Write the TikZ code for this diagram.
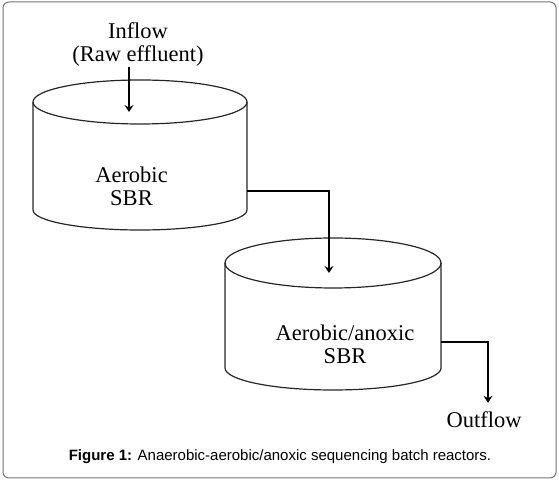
\documentclass[tikz,border=0pt]{standalone}
\usepackage{fontspec}
\setmainfont{Liberation Serif}
\newfontfamily\capfont{Liberation Sans}
\usetikzlibrary{arrows.meta, calc, positioning}

\begin{document}
\begin{tikzpicture}[x=1pt, y=1pt,
  body/.style={inner sep=0pt, outer sep=0pt, minimum width=#1},
  tank/.style={line width=1.2pt, draw=black!85},
  flow/.style={line width=1.5pt, -{Stealth[length=7pt,width=9pt,inset=2.5pt]}},
  lbl/.style={align=center, inner sep=0pt, font=\fontsize{22.5}{23}\selectfont}]
\useasboundingbox (0,0) rectangle (559,481);
\draw[black!55, line width=1pt, rounded corners=6pt] (3,3) rectangle (556,479);

% reactor bodies
\node[body=214, minimum height=108] (sbr1) at (140,325) {};
\node[body=216, minimum height=105] (sbr2) at (333,165.5) {};

\draw[tank] (sbr1.north) ellipse (107 and 22);
\draw[tank] (sbr1.north west) -- (sbr1.south west)
  arc[start angle=180, end angle=360, x radius=107, y radius=20] -- (sbr1.north east);

\draw[tank] (sbr2.north) ellipse (108 and 25);
\draw[tank] (sbr2.north west) -- (sbr2.south west)
  arc[start angle=180, end angle=360, x radius=108, y radius=22] -- (sbr2.north east);

% labels
\node[lbl] (lab1) at (131.5,295) {Aerobic\\SBR};
\node[lbl] (lab2) at (345,137) {Aerobic/anoxic\\SBR};
\node[lbl] (inflow) at (138,437) {Inflow\\(Raw effluent)};
\node[lbl] (outflow) at (484,61) {Outflow};

\node[font=\capfont\fontsize{15}{17}\selectfont, inner sep=0pt] (cap) at (280,24)
  {\textbf{Figure 1:} Anaerobic-aerobic/anoxic sequencing batch reactors.};

% flows
\draw[flow] ([xshift=-9pt,yshift=-1pt]inflow.south) -- ([xshift=-11pt,yshift=-10pt]sbr1.north);
\draw[flow] ([yshift=-35pt]sbr1.east) -| ([xshift=-4pt,yshift=-10pt]sbr2.north);
\draw[flow] ([yshift=-26.5pt]sbr2.east) -| ([xshift=4pt,yshift=9pt]outflow.north);
\end{tikzpicture}
\end{document}
